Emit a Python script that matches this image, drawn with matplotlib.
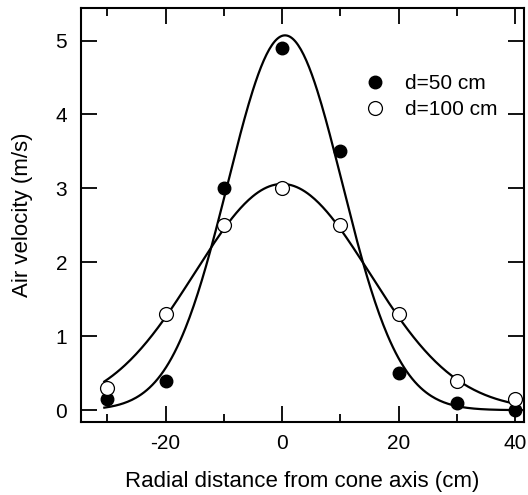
import numpy as np
import matplotlib.pyplot as plt

plt.rcParams['font.family'] = ['Liberation Sans', 'DejaVu Sans']
plt.rcParams['axes.unicode_minus'] = False

# measured points
x_pos = [-30, -20, -10, 0, 10, 20, 30, 40]
v_50 = [0.15, 0.4, 3.0, 4.9, 3.5, 0.5, 0.1, 0.0]
v_100 = [0.3, 1.3, 2.5, 3.0, 2.5, 1.3, 0.4, 0.15]

# gaussian fit parameters (amplitude, centre, width)
fit_50 = (5.07, 0.5, 9.8)
fit_100 = (3.06, 0.0, 15.0)
fit_range = (-30.5, 40.0)


def gauss(x, a, x0, s):
    return a * np.exp(-(x - x0) ** 2 / (2 * s ** 2))


fig = plt.figure(figsize=(5.28, 4.95), dpi=100)
ax = fig.add_axes([81 / 528, 73 / 495, 443 / 528, 414 / 495])

xx = np.linspace(fit_range[0], fit_range[1], 300)
ax.plot(xx, gauss(xx, *fit_50), color='black', lw=1.6)
ax.plot(xx, gauss(xx, *fit_100), color='black', lw=1.6)

ax.plot(x_pos, v_50, 'o', color='black', ms=9, label='d=50 cm')
ax.plot(x_pos, v_100, 'o', mfc='white', mec='black', mew=0.9, ms=10, label='d=100 cm')

ax.set_xlim(-34.5, 41.5)
ax.set_ylim(-0.16, 5.44)
ax.set_xticks([-20, 0, 20, 40])
ax.set_xticks([-30, -10, 10, 30], minor=True)
ax.set_yticks([0, 1, 2, 3, 4, 5])

ax.tick_params(which='both', direction='in', top=True, right=True, width=1.3, labelsize=15)
ax.tick_params(axis='x', pad=8.5)
ax.tick_params(axis='y', pad=10)
ax.tick_params(which='major', length=11.5)
ax.tick_params(which='minor', length=5.5)
for sp in ax.spines.values():
    sp.set_linewidth(1.5)

ax.set_xlabel('Radial distance from cone axis (cm)', fontsize=16, labelpad=13)
ax.set_ylabel('Air velocity (m/s)', fontsize=16, labelpad=16)

ax.legend(loc='upper left', bbox_to_anchor=(354 / 528, 421 / 495), bbox_transform=fig.transFigure,
          frameon=False, fontsize=15, handletextpad=0.45, labelspacing=0.33, borderpad=0,
          borderaxespad=0)

fig.savefig('out.png', dpi=100)
